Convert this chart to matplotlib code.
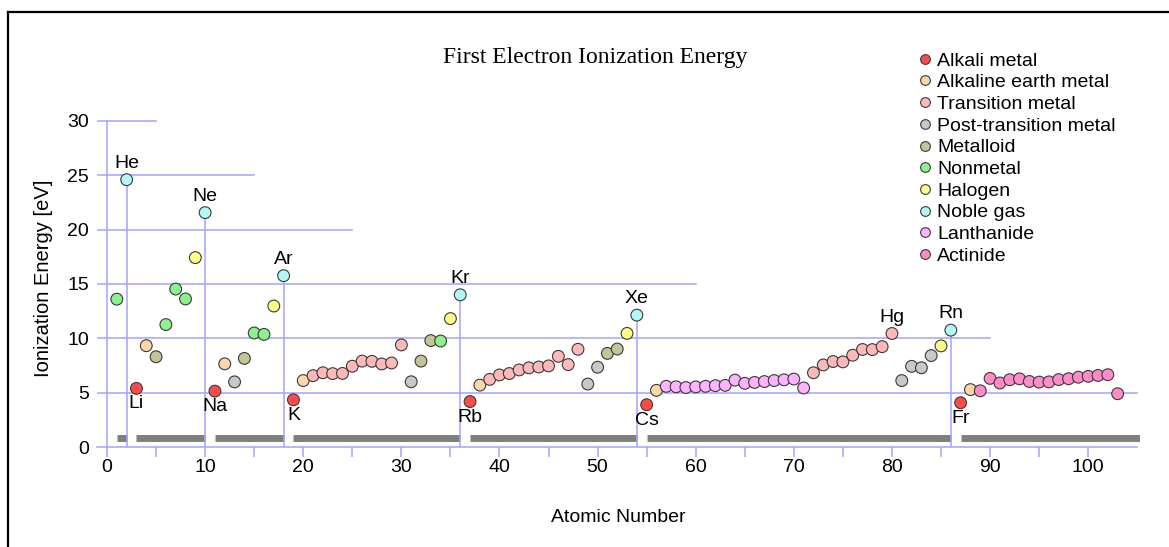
import matplotlib
matplotlib.use("Agg")
import matplotlib.pyplot as plt
from matplotlib.lines import Line2D

plt.rcParams['font.family'] = ['Liberation Sans', 'DejaVu Sans']

# first ionization energy [eV], Z = 1..103
energies = [
    13.60, 24.59, 5.39, 9.32, 8.30, 11.26, 14.53, 13.62, 17.42, 21.56,
    5.14, 7.65, 5.99, 8.15, 10.49, 10.36, 12.97, 15.76,
    4.34, 6.11, 6.56, 6.83, 6.75, 6.77, 7.43, 7.90, 7.88, 7.64, 7.73, 9.39,
    6.00, 7.90, 9.79, 9.75, 11.81, 14.00,
    4.18, 5.69, 6.22, 6.63, 6.76, 7.09, 7.28, 7.36, 7.46, 8.34, 7.58, 8.99,
    5.79, 7.34, 8.61, 9.01, 10.45, 12.13,
    3.89, 5.21, 5.58, 5.54, 5.47, 5.53, 5.58, 5.64, 5.67, 6.15, 5.86, 5.94,
    6.02, 6.11, 6.18, 6.25, 5.43, 6.83, 7.55, 7.86, 7.83, 8.44, 8.97, 8.96,
    9.23, 10.44, 6.11, 7.42, 7.29, 8.41, 9.30, 10.75,
    4.07, 5.28, 5.17, 6.31, 5.89, 6.19, 6.27, 6.03, 5.97, 5.99, 6.20, 6.28,
    6.42, 6.50, 6.58, 6.65, 4.90,
]

categories = (
    ['nm', 'ng', 'am', 'ae', 'md', 'nm', 'nm', 'nm', 'hl', 'ng']
    + ['am', 'ae', 'pt', 'md', 'nm', 'nm', 'hl', 'ng']
    + ['am', 'ae'] + ['tm'] * 10 + ['pt', 'md', 'md', 'nm', 'hl', 'ng']
    + ['am', 'ae'] + ['tm'] * 10 + ['pt', 'pt', 'md', 'md', 'hl', 'ng']
    + ['am', 'ae'] + ['ln'] * 15 + ['tm'] * 9 + ['pt', 'pt', 'pt', 'pt', 'hl', 'ng']
    + ['am', 'ae'] + ['ac'] * 15
)

category_keys = ['am', 'ae', 'tm', 'pt', 'md', 'nm', 'hl', 'ng', 'ln', 'ac']
category_names = ['Alkali metal', 'Alkaline earth metal', 'Transition metal',
                  'Post-transition metal', 'Metalloid', 'Nonmetal', 'Halogen',
                  'Noble gas', 'Lanthanide', 'Actinide']
category_colors = ['#ff4a4a', '#ffd6a6', '#ffb8b8', '#c8c8c8', '#c4c496',
                   '#8ef08e', '#ffff88', '#b2f8f8', '#ffb2ff', '#ff8cc6']

labels_above = {2: 'He', 10: 'Ne', 18: 'Ar', 36: 'Kr', 54: 'Xe', 80: 'Hg', 86: 'Rn'}
labels_below = {3: 'Li', 11: 'Na', 19: 'K', 37: 'Rb', 55: 'Cs', 87: 'Fr'}

period_start = [1, 3, 11, 19, 37, 55, 87]
period_end = [2, 10, 18, 36, 54, 86, 118]

grid_levels = [5, 10, 15, 20, 25, 30]
grid_ends = [105, 90, 60, 25, 15, 5]

z = list(range(1, len(energies) + 1))
color_of = dict(zip(category_keys, category_colors))

BLUE = '#a3a3ff'

fig = plt.figure(figsize=(11.69, 5.47), dpi=100)
ax = fig.add_axes([97.2 / 1169, 100 / 547, 1043 / 1169, 337 / 547])
ax.set_xlim(-1, 105.3)
ax.set_ylim(0, 31)
for s in ax.spines.values():
    s.set_visible(False)

# staircase grid + axes lines
for lev, end in zip(grid_levels, grid_ends):
    ax.plot([-1, end], [lev, lev], color=BLUE, lw=1.1, zorder=1)
ax.plot([-1, 105], [0, 0], color=BLUE, lw=1.1, zorder=1, clip_on=False)
ax.plot([0, 0], [0, 30], color=BLUE, lw=1.1, zorder=1)

# period bars
for a, b in zip(period_start, period_end):
    ax.plot([a, b], [0.83, 0.83], color='#7f7f7f', lw=5, solid_capstyle='butt', zorder=1)

# noble gas drop lines
for k in labels_above:
    if categories[k - 1] == 'ng':
        ax.plot([k, k], [0, energies[k - 1]], color=BLUE, lw=1.1, zorder=2)

ax.scatter(z, energies, s=72, c=[color_of[c] for c in categories],
           edgecolors='#3a3a3a', linewidths=0.8, zorder=3)

for k, name in labels_above.items():
    ax.annotate(name, (k, energies[k - 1]), xytext=(0, 8.5), textcoords='offset points',
                ha='center', va='baseline', fontsize=14)
for k, name in labels_below.items():
    ax.annotate(name, (k, energies[k - 1]), xytext=(0, -5), textcoords='offset points',
                ha='center', va='top', fontsize=14)

ax.set_xticks(range(0, 101, 10))
ax.set_xticks(range(5, 101, 10), minor=True)
ax.set_yticks(range(0, 31, 5))
ax.tick_params(axis='x', which='both', direction='out', length=7, width=1.1,
               color=BLUE, pad=2, labelsize=14)
ax.tick_params(axis='y', length=0, pad=6, labelsize=14)
ax.set_xlabel('Atomic Number', fontsize=14, labelpad=23.5)
ax.set_ylabel('Ionization Energy [eV]', fontsize=14.5, labelpad=10)

fig.text(595 / 1169, 1 - 58 / 547, 'First Electron Ionization Energy',
         family='Liberation Serif', fontsize=17, ha='center', va='center')

handles = [Line2D([], [], ls='', marker='o', ms=7, mfc=c, mec='#3a3a3a', mew=0.8)
           for c in category_colors]
fig.legend(handles, category_names, loc='upper left',
           bbox_to_anchor=(919 / 1169, 1 - 52 / 547), frameon=False,
           fontsize=14, borderpad=0, borderaxespad=0, handlelength=0.6,
           handletextpad=0.32, labelspacing=0.21)

# outer frame (top and left)
fig.add_artist(Line2D([8 / 1169, 1], [1 - 12 / 547, 1 - 12 / 547],
                      transform=fig.transFigure, color='black', lw=1.6))
fig.add_artist(Line2D([8 / 1169, 8 / 1169], [0, 1 - 12 / 547],
                      transform=fig.transFigure, color='black', lw=1.6))

fig.savefig('out.png', dpi=100)
